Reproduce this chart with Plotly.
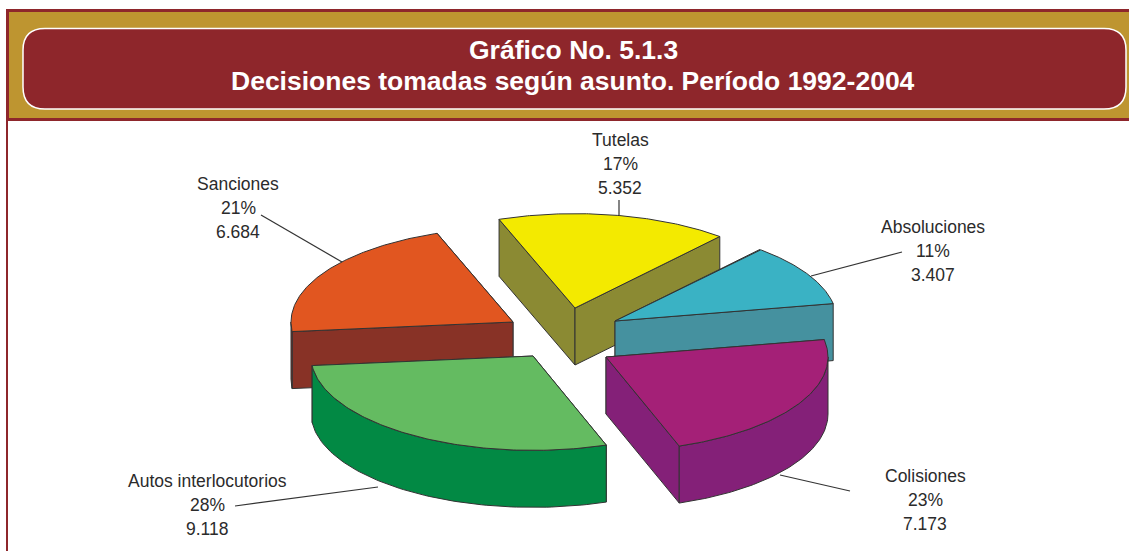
import numpy as np
import plotly.graph_objects as go

categories = ["Tutelas", "Absoluciones", "Colisiones", "Autos interlocutorios", "Sanciones"]
values = [5352, 3407, 7173, 9118, 6684]
percent_labels = ["17%", "11%", "23%", "28%", "21%"]
value_labels = ["5.352", "3.407", "7.173", "9.118", "6.684"]

top_colors = ["#F3EA00", "#3AB2C4", "#A42077", "#64BB61", "#E15620"]
side_colors = ["#8B8A33", "#45919F", "#842078", "#028944", "#883226"]
pull_x = [15, 55, 46, -27, -47]
pull_y = [-27, -14, 22, 21, -13]
draw_order = [0, 4, 1, 3, 2]
label_x = [620, 933, 925, 207, 238]
label_y = [140, 227, 476, 481, 184]
leaders = [((619, 200), (619, 216)), ((902, 252), (811, 276)), ((850, 491), (780, 475)),
           ((235, 506), (378, 487)), ((261, 215), (342, 262))]

CX, CY, R, K, DEPTH = 560, 335, 222, 0.425, 57
START = -110.0
INK = "#333333"
RED, GOLD = "#8E262B", "#BE9530"
LABEL_FONT = "Liberation Sans, Arial, sans-serif"
TITLE_FONT = "Liberation Sans, Arial, sans-serif"

fig = go.Figure()


def poly(xs, ys, color):
    fig.add_trace(go.Scatter(x=list(xs), y=list(ys), mode="lines", fill="toself", fillcolor=color,
                             line=dict(color=INK, width=1), hoverinfo="skip", showlegend=False))


total = sum(values)
bounds = START + np.cumsum([0] + values) / total * 360
for i in draw_order:
    a0, a1 = bounds[i], bounds[i + 1]
    tx, ty = CX + pull_x[i], CY + pull_y[i]
    px = lambda a: tx + R * np.cos(np.radians(a))
    py = lambda a: ty + R * K * np.sin(np.radians(a))
    # radial side faces, the one further back first
    for a in sorted((a0, a1), key=py):
        poly([tx, px(a), px(a), tx, tx], [ty, py(a), py(a) + DEPTH, ty + DEPTH, ty], side_colors[i])
    # outer wall: the part of the rim that faces the viewer
    lo, hi = max(a0, 0), min(a1, 180)
    if hi > lo:
        t = np.linspace(lo, hi, 80)
        xs = np.concatenate([px(t), px(t[::-1]), [px(t[0])]])
        ys = np.concatenate([py(t), py(t[::-1]) + DEPTH, [py(t[0])]])
        poly(xs, ys, side_colors[i])
    # top face
    t = np.linspace(a0, a1, 120)
    poly(np.concatenate([[tx], px(t), [tx]]), np.concatenate([[ty], py(t), [ty]]), top_colors[i])

shapes = [
    dict(type="rect", x0=6, x1=8, y0=10, y1=551, fillcolor=RED, line_width=0, layer="below"),
    dict(type="rect", x0=6, x1=1129, y0=9, y1=121, fillcolor=RED, line_width=0, layer="below"),
    dict(type="rect", x0=9, x1=1129, y0=12, y1=118, fillcolor=GOLD, line_width=0, layer="below"),
    dict(type="path", layer="below", fillcolor=RED, line=dict(color="white", width=1.5),
         path="M 45 28.5 L 1104 28.5 Q 1126 28.5 1126 50 L 1126 87 Q 1126 109 1104 109 L 45 109 "
              "Q 23 109 23 87 L 23 50 Q 23 28.5 45 28.5 Z"),
]
for (x0, y0), (x1, y1) in leaders:
    shapes.append(dict(type="line", x0=x0, y0=y0, x1=x1, y1=y1, line=dict(color=INK, width=1.2)))

annotations = [
    dict(x=573, y=50, text="<b>Gráfico No. 5.1.3</b>", font=dict(family=TITLE_FONT, size=26.5, color="white")),
    dict(x=573, y=81, text="<b>Decisiones tomadas según asunto. Período 1992-2004</b>",
         font=dict(family=TITLE_FONT, size=26.5, color="white")),
]
for i, name in enumerate(categories):
    for j, txt in enumerate([name, percent_labels[i], value_labels[i]]):
        annotations.append(dict(x=label_x[i], y=label_y[i] + 24 * j, text=txt,
                                font=dict(family=LABEL_FONT, size=17.5, color="#2b2b2b")))
for a in annotations:
    a.update(xref="x", yref="y", showarrow=False, xanchor="center", yanchor="middle")

fig.update_layout(
    width=1129, height=551, margin=dict(l=0, r=0, t=0, b=0, autoexpand=False),
    paper_bgcolor="white", plot_bgcolor="white", showlegend=False,
    xaxis=dict(range=[0, 1129], visible=False, fixedrange=True),
    yaxis=dict(range=[551, 0], visible=False, fixedrange=True),
    shapes=shapes, annotations=annotations,
)
fig.write_html("out.html", config=dict(displayModeBar=False),
               post_script="document.body.style.margin='0';document.body.style.overflow='hidden';")
